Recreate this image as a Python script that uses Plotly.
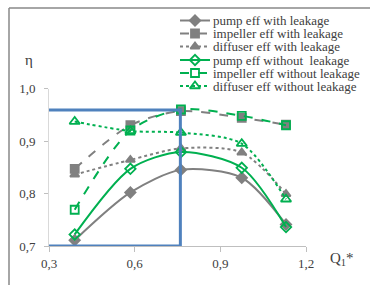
import plotly.graph_objects as go

# ---- data ----
q_values = [0.39, 0.585, 0.762, 0.975, 1.13]
pump_with = [0.711, 0.802, 0.845, 0.830, 0.741]
impeller_with = [0.847, 0.930, 0.957, 0.944, 0.931]
diffuser_with = [0.836, 0.864, 0.886, 0.878, 0.799]
pump_without = [0.722, 0.847, 0.879, 0.849, 0.736]
impeller_without = [0.769, 0.920, 0.960, 0.948, 0.930]
diffuser_without = [0.937, 0.919, 0.916, 0.895, 0.789]
series_names = [
    "pump eff with leakage",
    "impeller eff with leakage",
    "diffuser eff with leakage",
    "pump eff without  leakage",
    "impeller eff without leakage",
    "diffuser eff without leakage",
]
x_ticks = [0.3, 0.6, 0.9, 1.2]
y_ticks = [0.7, 0.8, 0.9, 1.0]

W, H = 370, 285
GRAY = "#808080"
GREEN = "#00b050"
FONT = "Liberation Serif, Times New Roman, DejaVu Serif, serif"
TXT = "#404040"

styles = [
    dict(color=GRAY, dash="solid", symbol="diamond", size=8),
    dict(color=GRAY, dash="dash", symbol="square", size=8),
    dict(color=GRAY, dash="dot", symbol="triangle-up", size=8),
    dict(color=GREEN, dash="solid", symbol="diamond-open", size=8),
    dict(color=GREEN, dash="dash", symbol="square-open", size=8),
    dict(color=GREEN, dash="dot", symbol="triangle-up-open", size=9),
]
series = [pump_with, impeller_with, diffuser_with, pump_without, impeller_without, diffuser_without]

# plot area in pixels
PX_L, PX_R, PX_T, PX_B = 49, 306, 88.5, 246

fig = go.Figure()
for name, ys, st in zip(series_names, series, styles):
    fig.add_trace(go.Scatter(
        x=q_values, y=ys, name=name, mode="lines+markers",
        line=dict(color=st["color"], width=2, dash=st["dash"], shape="spline", smoothing=0.8),
        marker=dict(symbol=st["symbol"], size=st["size"], color=st["color"],
                    line=dict(color=st["color"], width=1.8)),
        showlegend=False, cliponaxis=False,
    ))

# manual legend on overlay pixel axes
legend_rows = [20.5, 33.5, 46.5, 60, 73, 86]
annotations = []
for name, st, ry in zip(series_names, styles, legend_rows):
    fig.add_trace(go.Scatter(
        x=[180, 210], y=[ry, ry], mode="lines", xaxis="x2", yaxis="y2",
        line=dict(color=st["color"], width=2, dash=st["dash"]), showlegend=False, hoverinfo="skip"))
    fig.add_trace(go.Scatter(
        x=[195], y=[ry], mode="markers", xaxis="x2", yaxis="y2",
        marker=dict(symbol=st["symbol"], size=st["size"], color=st["color"],
                    line=dict(color=st["color"], width=1.8)),
        showlegend=False, hoverinfo="skip"))
    annotations.append(dict(x=211 / W, y=1 - ry / H, xref="paper", yref="paper",
                            text=name, showarrow=False, xanchor="left", yanchor="middle",
                            font=dict(family=FONT, size=13, color=TXT)))

annotations.append(dict(x=29 / W, y=1 - 60 / H, xref="paper", yref="paper", text="η",
                        showarrow=False, xanchor="center", yanchor="middle",
                        font=dict(family=FONT, size=15, color=TXT)))
annotations.append(dict(x=342 / W, y=1 - 259 / H, xref="paper", yref="paper", text="Q<sub>1</sub>*",
                        showarrow=False, xanchor="center", yanchor="middle",
                        font=dict(family=FONT, size=15, color=TXT)))

shapes = [
    dict(type="rect", xref="x", yref="y", x0=0.292, x1=0.76, y0=0.7, y1=0.959,
         line=dict(color="#4f81bd", width=3)),
    dict(type="line", xref="paper", yref="paper", x0=9 / W, x1=1, y0=1 - 8 / H, y1=1 - 8 / H,
         line=dict(color="#888888", width=1.5)),
    dict(type="line", xref="paper", yref="paper", x0=9 / W, x1=9 / W, y0=1 - 8 / H, y1=0,
         line=dict(color="#888888", width=1.5)),
]

fig.update_layout(
    width=W, height=H,
    margin=dict(l=0, r=0, t=0, b=0, pad=0, autoexpand=False),
    paper_bgcolor="white", plot_bgcolor="rgba(0,0,0,0)",
    separators=",.",
    showlegend=False,
    font=dict(family=FONT, color=TXT),
    xaxis=dict(domain=[PX_L / W, PX_R / W], range=[0.3, 1.2], tickvals=x_ticks, tickformat=".1f",
               showgrid=False, zeroline=False, showline=True, linecolor="#bfbfbf", linewidth=1,
               ticks="outside", ticklen=5, tickcolor="#bfbfbf", automargin=False,
               tickfont=dict(family=FONT, size=13, color=TXT)),
    yaxis=dict(domain=[1 - PX_B / H, 1 - PX_T / H], range=[0.7, 1.0], tickvals=y_ticks, tickformat=".1f",
               showgrid=False, zeroline=False, showline=True, linecolor="#d9d9d9", linewidth=1,
               ticks="outside", ticklen=4, tickcolor="#bfbfbf", ticklabelstandoff=6, automargin=False,
               tickfont=dict(family=FONT, size=13, color=TXT)),
    xaxis2=dict(domain=[0, 1], range=[0, W], visible=False, fixedrange=True, automargin=False),
    yaxis2=dict(domain=[0, 1], range=[H, 0], visible=False, fixedrange=True, automargin=False),
    annotations=annotations,
    shapes=shapes,
)

fig.write_html("out.html", config={"displayModeBar": False},
               post_script="document.body.style.margin='0';document.body.style.overflow='hidden';")
